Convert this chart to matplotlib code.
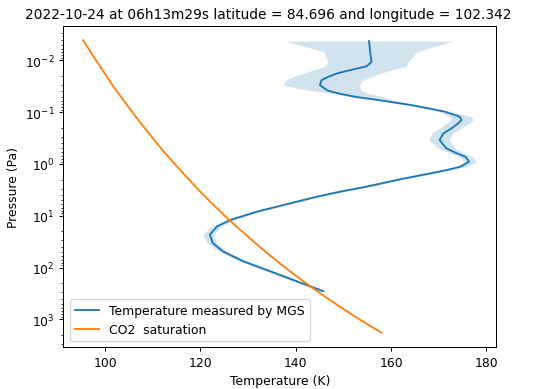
import numpy as np
import matplotlib.pyplot as plt

title = '2022-10-24 at 06h13m29s latitude = 84.696 and longitude = 102.342'

# MGS temperature profile, log10(pressure in Pa) and temperature in K
mgs_logp = [-2.371, -2.17, -1.967, -1.885, -1.81, -1.744, -1.68, -1.615, -1.52, -1.42,
            -1.36, -1.294, -1.231, -1.135, -1.071, -1.006, -0.910, -0.846, -0.783, -0.686,
            -0.590, -0.462, -0.302, -0.21, -0.140, -0.044, 0.052, 0.115, 0.179, 0.294,
            0.437, 0.533, 0.629, 0.692, 0.756, 0.917, 1.077, 1.205, 1.365, 1.525,
            1.686, 1.878, 2.10, 2.36, 2.456]
mgs_temp = [155.4, 155.6, 155.9, 154.9, 151.4, 148.6, 146.8, 145.4, 145.1, 146.6,
            149.0, 152.6, 157.5, 164.3, 168.0, 171.4, 174.4, 174.8, 174.1, 172.7,
            171.0, 170.2, 171.6, 173.7, 175.6, 176.4, 174.6, 171.8, 168.4, 162.0,
            154.9, 149.4, 144.6, 141.8, 139.0, 132.0, 126.4, 123.5, 122.0, 122.6,
            124.7, 129.0, 135.5, 143.0, 145.8]
# uncertainty below / above the measured temperature (K)
err_minus = [17.7, 9.8, 9.1, 8.8, 7.9, 7.0, 7.5, 7.6, 7.7, 3.8,
             1.5, 1.0, 1.0, 1.0, 1.0, 1.2, 2.0, 2.3, 2.5, 2.5,
             2.5, 2.3, 1.8, 1.5, 1.2, 1.0, 1.0, 0.9, 0.8, 0.8,
             0.8, 0.8, 0.8, 0.8, 0.8, 0.8, 0.9, 1.2, 1.5, 1.2,
             0.9, 0.8, 0.8, 0.8, 0.8]
err_plus = [17.6, 9.9, 7.7, 8.2, 8.6, 9.1, 9.0, 8.7, 8.3, 7.1,
            6.2, 6.0, 3.0, 1.0, 1.0, 1.5, 2.5, 2.5, 2.3, 2.0,
            2.0, 2.0, 1.8, 1.6, 1.5, 1.5, 1.2, 0.9, 0.8, 0.8,
            0.8, 0.8, 0.8, 0.8, 0.8, 0.8, 0.8, 0.8, 0.8, 0.8,
            0.8, 0.8, 0.8, 0.8, 0.8]

# CO2 condensation curve
co2_logp = [-2.385, -2.0, -1.75, -1.5, -1.25, -1.0, -0.75, -0.5, -0.25, 0.0,
            0.25, 0.5, 0.75, 1.0, 1.25, 1.5, 1.75, 2.0, 2.25, 2.5, 2.75, 3.0, 3.256]
co2_temp = [95.4, 98.1, 99.9, 101.7, 103.7, 105.7, 107.8, 110.0, 112.2, 114.6,
            117.1, 119.6, 122.3, 125.1, 128.1, 131.2, 134.4, 137.8, 141.4, 145.2,
            149.2, 153.4, 158.0]

p_mgs = 10 ** np.array(mgs_logp)
t_mgs = np.array(mgs_temp)
p_co2 = 10 ** np.array(co2_logp)

dpi = 89
fig = plt.figure(figsize=(537 / dpi, 390 / dpi), dpi=dpi)
ax = fig.add_axes([0.1182, 0.1069, 0.8054, 0.8246])

ax.plot(t_mgs, p_mgs, label='Temperature measured by MGS')
ax.fill_betweenx(p_mgs, t_mgs - np.array(err_minus), t_mgs + np.array(err_plus),
                 color='C0', alpha=0.2, linewidth=0)
ax.plot(co2_temp, p_co2, label='CO2  saturation')

ax.set_yscale('log')
ax.invert_yaxis()
ax.set_xlabel('Temperature (K)')
ax.set_ylabel('Pressure (Pa)')
fig.suptitle(title, fontsize=11.1)
ax.legend(loc='lower left')

fig.savefig('out.png', dpi=dpi)
